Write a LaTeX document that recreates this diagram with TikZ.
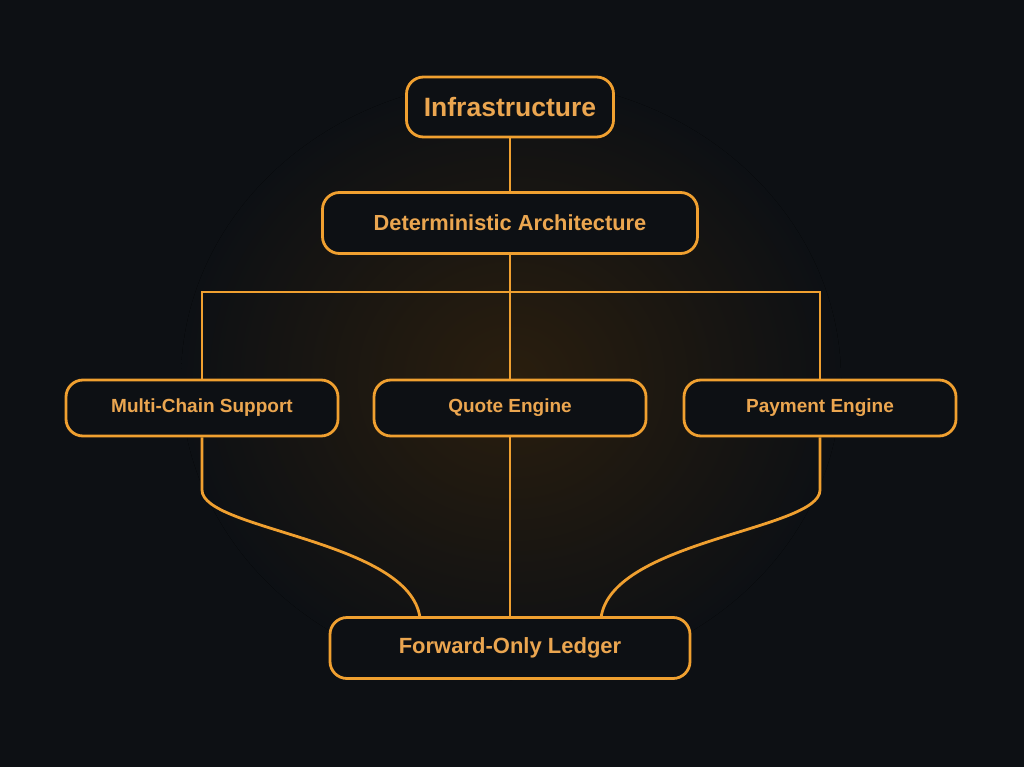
\documentclass[tikz,border=0pt]{standalone}
\usepackage{fontspec}
\setmainfont{Liberation Sans}
\definecolor{bg}{HTML}{0D1014}
\definecolor{org}{HTML}{F0A030}
\definecolor{txt}{HTML}{EBA650}
\definecolor{glow}{HTML}{2A1E0E}
\begin{document}
\begin{tikzpicture}[x=1pt,y=-1pt,
  box/.style={draw=org,line width=2.8pt,rounded corners=17pt,fill=bg,text=txt,font=\bfseries,inner sep=0pt},
  wire/.style={draw=org,line width=2.8pt}]
\fill[bg] (0,0) rectangle (1024,767);
\useasboundingbox (0,0) rectangle (1024,767);
\fill[inner color=glow,outer color=bg] (511,380) ellipse (330 and 300);
\node[box,minimum width=207pt,minimum height=60pt,font=\bfseries\fontsize{26.5}{30}\selectfont] (inf) at (510,107) {Infrastructure};
\node[box,minimum width=375pt,minimum height=61pt,font=\bfseries\fontsize{21.8}{25}\selectfont] (det) at (510,223) {Deterministic Architecture};
\node[box,minimum width=272pt,minimum height=56pt,font=\bfseries\fontsize{19}{22}\selectfont] (mc) at (202,408) {Multi-Chain Support};
\node[box,minimum width=272pt,minimum height=56pt,font=\bfseries\fontsize{19}{22}\selectfont] (qe) at (510,408) {Quote Engine};
\node[box,minimum width=272pt,minimum height=56pt,font=\bfseries\fontsize{19}{22}\selectfont] (pe) at (820,408) {Payment Engine};
\node[box,minimum width=360pt,minimum height=61pt,font=\bfseries\fontsize{22}{25}\selectfont] (fl) at (510,648) {Forward-Only Ledger};
\coordinate (bus) at (510,292);
\coordinate (fa) at (420,618);
\coordinate (fb) at (601,618);
\draw[wire] (inf.south) -- (det.north);
\draw[wire] (det.south) -- (qe.north);
\draw[wire] (mc.north) |- (bus) -| (pe.north);
\draw[wire] (qe.south) -- (fl.north);
\draw[wire] (mc.south) -- (202,490) .. controls (202,530) and (410,540) .. (fa);
\draw[wire] (pe.south) -- (820,490) .. controls (820,530) and (611,540) .. (fb);
\end{tikzpicture}
\end{document}
